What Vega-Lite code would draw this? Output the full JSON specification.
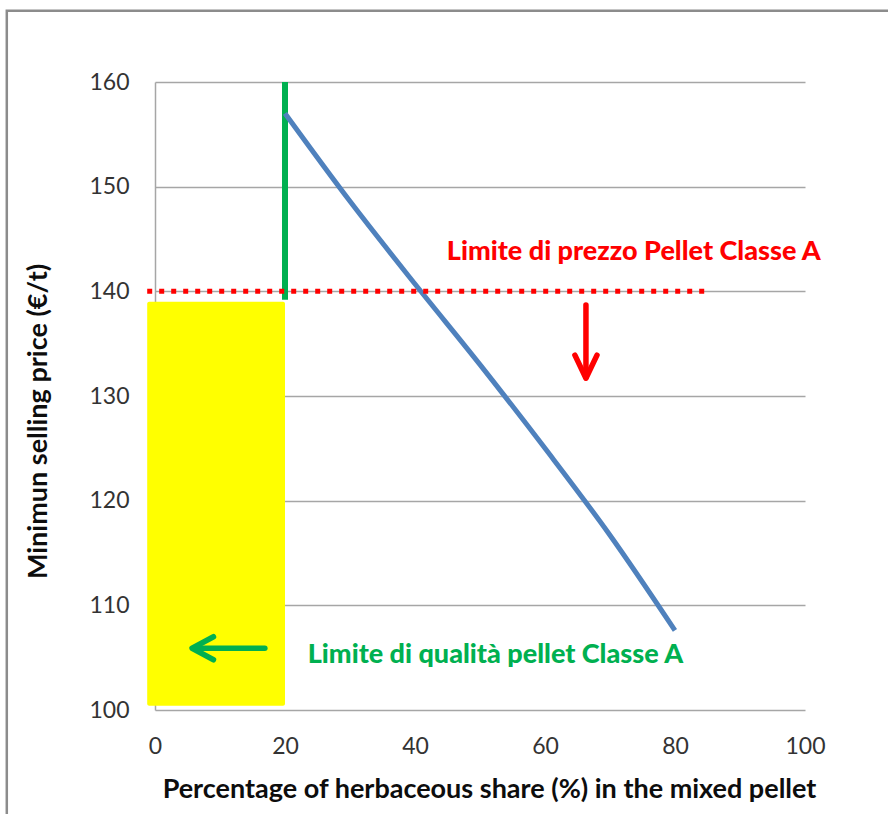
{
  "$schema": "https://vega.github.io/schema/vega-lite/v6.json",
  "width": 650,
  "height": 628,
  "autosize": {"type": "none"},
  "padding": {"left": 155, "top": 82, "right": 83, "bottom": 104},
  "background": "white",
  "config": {
    "view": {"stroke": null},
    "font": "Lato",
    "axis": {"labelFont": "Lato", "titleFont": "Lato", "labelColor": "#333333", "titleColor": "#0d0d0d"}
  },
  "datasets": {
    "frame": [{"x1": -22.8, "x2": 200, "y1": 166.8, "y2": 80}],
    "quality": [{"x1": -1.2, "x2": 20, "y1": 139, "y2": 100.4}],
    "qline": [{"x": 20, "y": 160}, {"x": 20, "y": 139.2}],
    "curve": [
      {"x": 20, "y": 157.0},
      {"x": 30, "y": 148.6},
      {"x": 40, "y": 140.7},
      {"x": 50, "y": 133.0},
      {"x": 60, "y": 125.0},
      {"x": 70, "y": 116.7},
      {"x": 80, "y": 107.6}
    ],
    "priceline": [{"x": -1.2, "y": 140}, {"x": 85, "y": 140}],
    "redarrow": [
      {"a": "r1", "x": 66.3, "y": 138.7, "o": 1},
      {"a": "r1", "x": 66.3, "y": 131.8, "o": 2},
      {"a": "r2", "x": 64.6, "y": 133.9, "o": 1},
      {"a": "r2", "x": 66.3, "y": 131.7, "o": 2},
      {"a": "r2", "x": 68.0, "y": 133.9, "o": 3}
    ],
    "greenarrow": [
      {"a": "g1", "x": 16.9, "y": 105.9, "o": 1},
      {"a": "g1", "x": 5.9, "y": 105.9, "o": 2},
      {"a": "g2", "x": 9.0, "y": 107.0, "o": 1},
      {"a": "g2", "x": 5.7, "y": 105.9, "o": 2},
      {"a": "g2", "x": 9.0, "y": 104.8, "o": 3}
    ],
    "pricelabel": [{"x": 44.9, "y": 143.8, "t": "Limite di prezzo Pellet Classe A"}],
    "qualitylabel": [{"x": 23.5, "y": 105.3, "t": "Limite di qualità pellet Classe A"}]
  },
  "layer": [
    {
      "data": {"name": "frame"},
      "mark": {"type": "rect", "fill": null, "stroke": "#8c8c8c", "strokeWidth": 2.5},
      "encoding": {
        "x": {"field": "x1", "type": "quantitative", "scale": {"domain": [0, 100], "nice": false},
          "axis": {"values": [0, 20, 40, 60, 80, 100], "grid": false, "domain": false, "ticks": false,
            "labelFontSize": 23, "labelPadding": 25, "labelFlush": false,
            "title": "Percentage of herbaceous share (%) in the mixed pellet",
            "titleFontSize": 27, "titleFontWeight": "bold", "titlePadding": 18, "titleX": 334}},
        "x2": {"field": "x2"},
        "y": {"field": "y1", "type": "quantitative", "scale": {"domain": [100, 160], "nice": false},
          "axis": {"values": [100, 110, 120, 130, 140, 150, 160], "grid": true, "gridColor": "#a6a6a6", "gridWidth": 1.5,
            "domain": true, "domainColor": "#a6a6a6", "domainWidth": 1.5, "ticks": false,
            "labelFontSize": 23, "labelPadding": 26, "labelFlush": false,
            "title": "Minimun selling price (€/t)", "titleFontSize": 27, "titleFontWeight": "bold", "titlePadding": 36, "titleY": 339}},
        "y2": {"field": "y2"}
      }
    },
    {
      "data": {"name": "quality"},
      "mark": {"type": "rect", "fill": "#ffff00", "cornerRadius": 2},
      "encoding": {
        "x": {"field": "x1", "type": "quantitative"},
        "x2": {"field": "x2"},
        "y": {"field": "y1", "type": "quantitative"},
        "y2": {"field": "y2"}
      }
    },
    {
      "data": {"name": "qline"},
      "mark": {"type": "line", "color": "#00b050", "strokeWidth": 6},
      "encoding": {
        "x": {"field": "x", "type": "quantitative"},
        "y": {"field": "y", "type": "quantitative"}
      }
    },
    {
      "data": {"name": "curve"},
      "mark": {"type": "line", "color": "#4f81bd", "strokeWidth": 5, "interpolate": "monotone"},
      "encoding": {
        "x": {"field": "x", "type": "quantitative"},
        "y": {"field": "y", "type": "quantitative"}
      }
    },
    {
      "data": {"name": "priceline"},
      "mark": {"type": "line", "color": "#ff0000", "strokeWidth": 5, "strokeDash": [5, 7]},
      "encoding": {
        "x": {"field": "x", "type": "quantitative"},
        "y": {"field": "y", "type": "quantitative"}
      }
    },
    {
      "data": {"name": "redarrow"},
      "mark": {"type": "line", "color": "#ff0000", "strokeWidth": 5.5, "strokeCap": "round", "strokeJoin": "round"},
      "encoding": {
        "x": {"field": "x", "type": "quantitative"},
        "y": {"field": "y", "type": "quantitative"},
        "detail": {"field": "a"},
        "order": {"field": "o"}
      }
    },
    {
      "data": {"name": "greenarrow"},
      "mark": {"type": "line", "color": "#00b050", "strokeWidth": 5.5, "strokeCap": "round", "strokeJoin": "round"},
      "encoding": {
        "x": {"field": "x", "type": "quantitative"},
        "y": {"field": "y", "type": "quantitative"},
        "detail": {"field": "a"},
        "order": {"field": "o"}
      }
    },
    {
      "data": {"name": "pricelabel"},
      "mark": {"type": "text", "align": "left", "baseline": "middle", "fontSize": 27, "fontWeight": 900, "font": "Lato", "color": "#ff0000"},
      "encoding": {
        "x": {"field": "x", "type": "quantitative"},
        "y": {"field": "y", "type": "quantitative"},
        "text": {"field": "t"}
      }
    },
    {
      "data": {"name": "qualitylabel"},
      "mark": {"type": "text", "align": "left", "baseline": "middle", "fontSize": 27, "fontWeight": 900, "font": "Lato", "color": "#00b050"},
      "encoding": {
        "x": {"field": "x", "type": "quantitative"},
        "y": {"field": "y", "type": "quantitative"},
        "text": {"field": "t"}
      }
    }
  ]
}
